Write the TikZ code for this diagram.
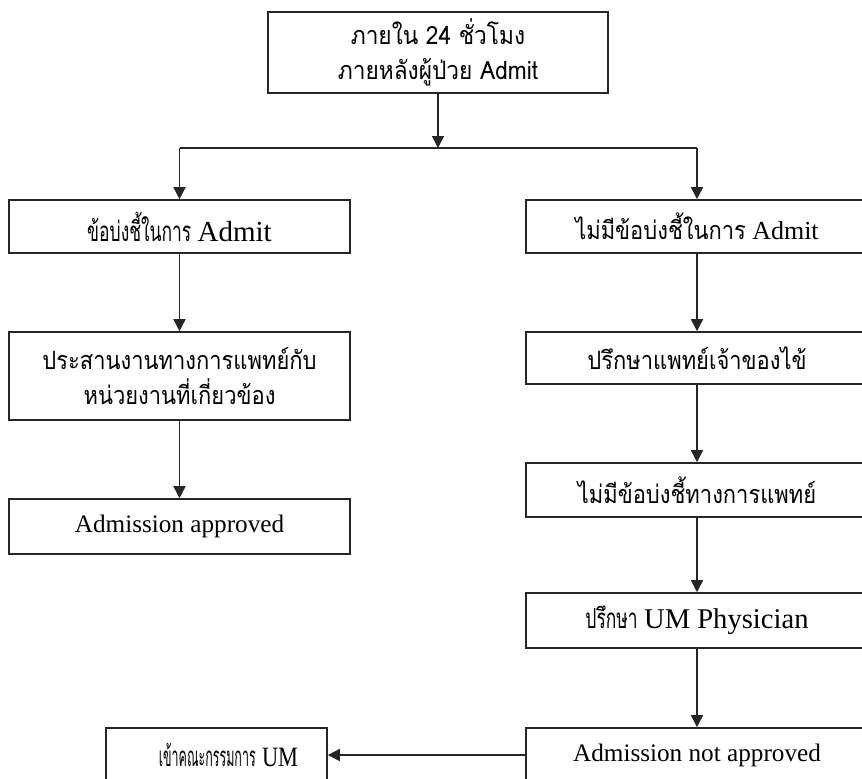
\documentclass[tikz,border=0pt]{standalone}
\usepackage{fontspec}
\setmainfont{Liberation Serif}
\newfontfamily\thaifont[Script=Thai,FakeStretch=0.87]{Loma}
\newfontfamily\thaitop[Script=Thai,FakeStretch=0.9]{Loma}
\newfontfamily\thaicond[Script=Thai,FakeStretch=0.63,Scale=1.1]{Loma}
\newfontfamily\thainarrow[Script=Thai,FakeStretch=0.45,Scale=1.1]{Loma}
\newfontfamily\serifcond[FakeStretch=0.8]{Liberation Serif}
\newcommand{\thx}[1]{{\thaifont #1}}
\usetikzlibrary{arrows.meta}
\begin{document}
\begin{tikzpicture}[x=0.5pt,y=-0.5pt,
  line width=0.8pt,
  box/.style={draw=black!85, rectangle, inner sep=0pt, align=center,
    font=\fontsize{12.6}{17.5}\selectfont},
  arr/.style={draw=black!85, -{Triangle[width=6pt,length=6pt]}},
  ln/.style={draw=black!85}]
\useasboundingbox (0,0) rectangle (862,778);
\clip (0,0) rectangle (862,778);
% top
\node[box, minimum width=170pt, minimum height=40.5pt] (top) at (438,52.5)
  {{\thaitop ภายใน 24 ชั่วโมง}\\{\thaitop ภายหลังผู้ป่วย Admit}};
% left column
\node[box, minimum width=170.5pt, minimum height=26.5pt] (l1) at (179.5,226.5)
  {{\thaicond ข้อบ่งชี้ในการ} {\fontsize{14.5}{17}\selectfont Admit}};
\node[box, minimum width=170.5pt, minimum height=44pt] (l2) at (179.5,376)
  {\thx{ประสานงานทางการแพทย์กับ}\\\thx{หน่วยงานที่เกี่ยวข้อง}};
\node[box, minimum width=170.5pt, minimum height=27.5pt] (l3) at (179.5,526.5)
  {Admission approved};
% right column
\node[box, minimum width=171pt, minimum height=26.5pt] (r1) at (697,226.5)
  {\thx{ไม่มีข้อบ่งชี้ในการ} {\fontsize{13}{17}\selectfont Admit}};
\node[box, minimum width=171pt, minimum height=26pt] (r2) at (697,358)
  {\thx{ปรึกษาแพทย์เจ้าของไข้}};
\node[box, minimum width=171pt, minimum height=27pt] (r3) at (697,490)
  {\thx{ไม่มีข้อบ่งชี้ทางการแพทย์}};
\node[box, minimum width=171pt, minimum height=27.5pt] (r4) at (697,620.5)
  {{\thaicond ปรึกษา} {\fontsize{14.3}{17}\selectfont UM Physician}};
\node[box, minimum width=171pt, minimum height=27pt] (r5) at (697,755)
  {Admission not approved};
\node[box, minimum width=110.5pt, minimum height=27pt] (u) at (216.5,755)
  {\hspace*{12pt}{\thainarrow เข้าคณะกรรมการ} {\serifcond\fontsize{14}{17}\selectfont UM}};
% junction
\coordinate (jl) at (179.5,148);
\coordinate (jr) at (697,148);
\coordinate (j) at (438,148);
\draw[arr] (top.south) -- (j);
\draw[ln] (jl) -- (jr);
\draw[arr] (jl) -- (l1.north);
\draw[arr] (jr) -- (r1.north);
\draw[arr] (l1.south) -- (l2.north);
\draw[arr] (l2.south) -- (l3.north);
\draw[arr] (r1.south) -- (r2.north);
\draw[arr] (r2.south) -- (r3.north);
\draw[arr] (r3.south) -- (r4.north);
\draw[arr] (r4.south) -- (r5.north);
\draw[arr] (r5.west) -- (u.east);
\end{tikzpicture}
\end{document}
